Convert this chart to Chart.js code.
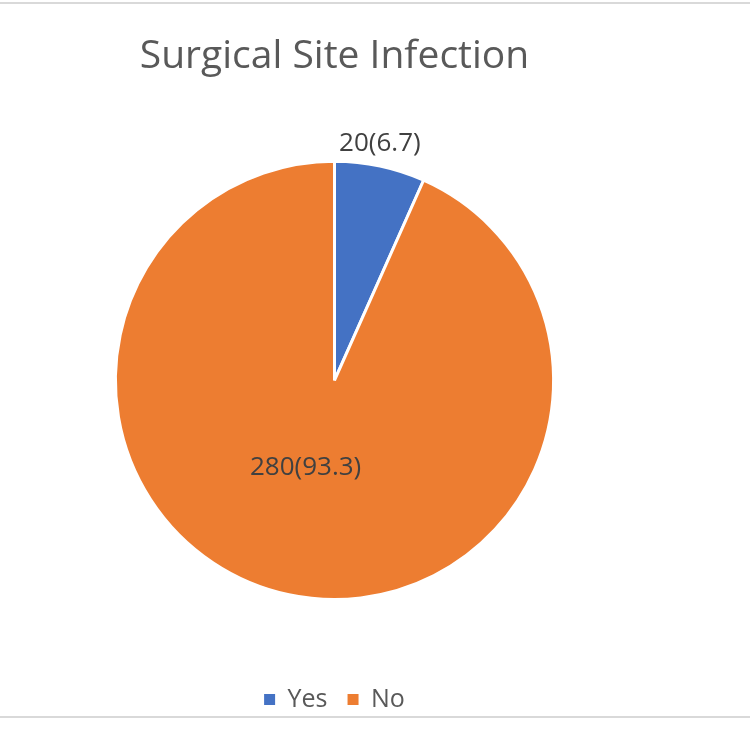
<!DOCTYPE html>
<html>
<head>
<meta charset="utf-8">
<script src="https://cdn.jsdelivr.net/npm/chart.js@4.4.1/dist/chart.umd.min.js"></script>
<style>
  body { margin: 0; background: #fff; }
  #wrap { position: relative; width: 750px; height: 750px; }
  .rule { position: absolute; left: 0; width: 750px; height: 2px; background: #d9d9d9; }
</style>
</head>
<body>
<div id="wrap">
  <div class="rule" style="top:2px"></div>
  <div class="rule" style="top:716px"></div>
  <canvas id="Grafico" width="750" height="750"></canvas>
</div>
<script>
'use strict';
// dados
const categorias = ['Yes', 'No'];
const valores = [20, 280];
const percentuais = [6.7, 93.3];
const cores = ['#4472C4', '#ED7D31'];

// rotulos "n(%)" desenhados sobre cada fatia
const rotulosFatia = {
  id: 'rotulosFatia',
  afterDatasetsDraw(chart) {
    const ctx = chart.ctx;
    const meta = chart.getDatasetMeta(0);
    ctx.save();
    ctx.font = '26px "Open Sans"';
    ctx.fillStyle = '#404040';
    ctx.textAlign = 'center';
    ctx.textBaseline = 'middle';
    meta.data.forEach((arc, i) => {
      const p = arc.getProps(['x', 'y', 'startAngle', 'endAngle', 'outerRadius'], true);
      const meio = (p.startAngle + p.endAngle) / 2;
      // fatia pequena: rotulo fora; fatia grande: rotulo dentro
      const ang = i === 0 ? meio - 0.02 : meio + 0.11;
      const dist = i === 0 ? p.outerRadius + 22 : p.outerRadius * 0.42;
      ctx.fillText(valores[i] + '(' + percentuais[i] + ')', p.x + Math.cos(ang) * dist, p.y + Math.sin(ang) * dist);
    });
    ctx.restore();
  }
};

const ctx = document.getElementById('Grafico');
new Chart(ctx, {
  type: 'pie',
  data: {
    labels: categorias,
    datasets: [{
      data: valores,
      backgroundColor: cores,
      borderColor: '#ffffff',
      borderWidth: 3
    }]
  },
  plugins: [rotulosFatia],
  options: {
    responsive: false,
    animation: false,
    layout: { padding: { left: 113, right: 194, top: 0, bottom: 28 } },
    plugins: {
      title: {
        display: true,
        text: 'Surgical Site Infection',
        color: '#595959',
        font: { family: '"Open Sans"', size: 39, weight: 'normal' },
        padding: { top: 33, bottom: 80 }
      },
      // espaco vazio entre a pizza e a legenda
      subtitle: {
        display: true,
        position: 'bottom',
        weight: 500,
        text: '',
        font: { size: 10 },
        padding: { top: 0, bottom: 54 }
      },
      legend: {
        position: 'bottom',
        labels: {
          color: '#595959',
          font: { family: '"Open Sans"', size: 25 },
          boxWidth: 11,
          boxHeight: 11,
          padding: 20,
          // caixinhas sem a borda branca das fatias
          generateLabels(chart) {
            const itens = Chart.overrides.pie.plugins.legend.labels.generateLabels(chart);
            itens.forEach(it => { it.lineWidth = 0; it.strokeStyle = it.fillStyle; });
            return itens;
          }
        }
      },
      tooltip: { enabled: false }
    }
  }
});
</script>
</body>
</html>
